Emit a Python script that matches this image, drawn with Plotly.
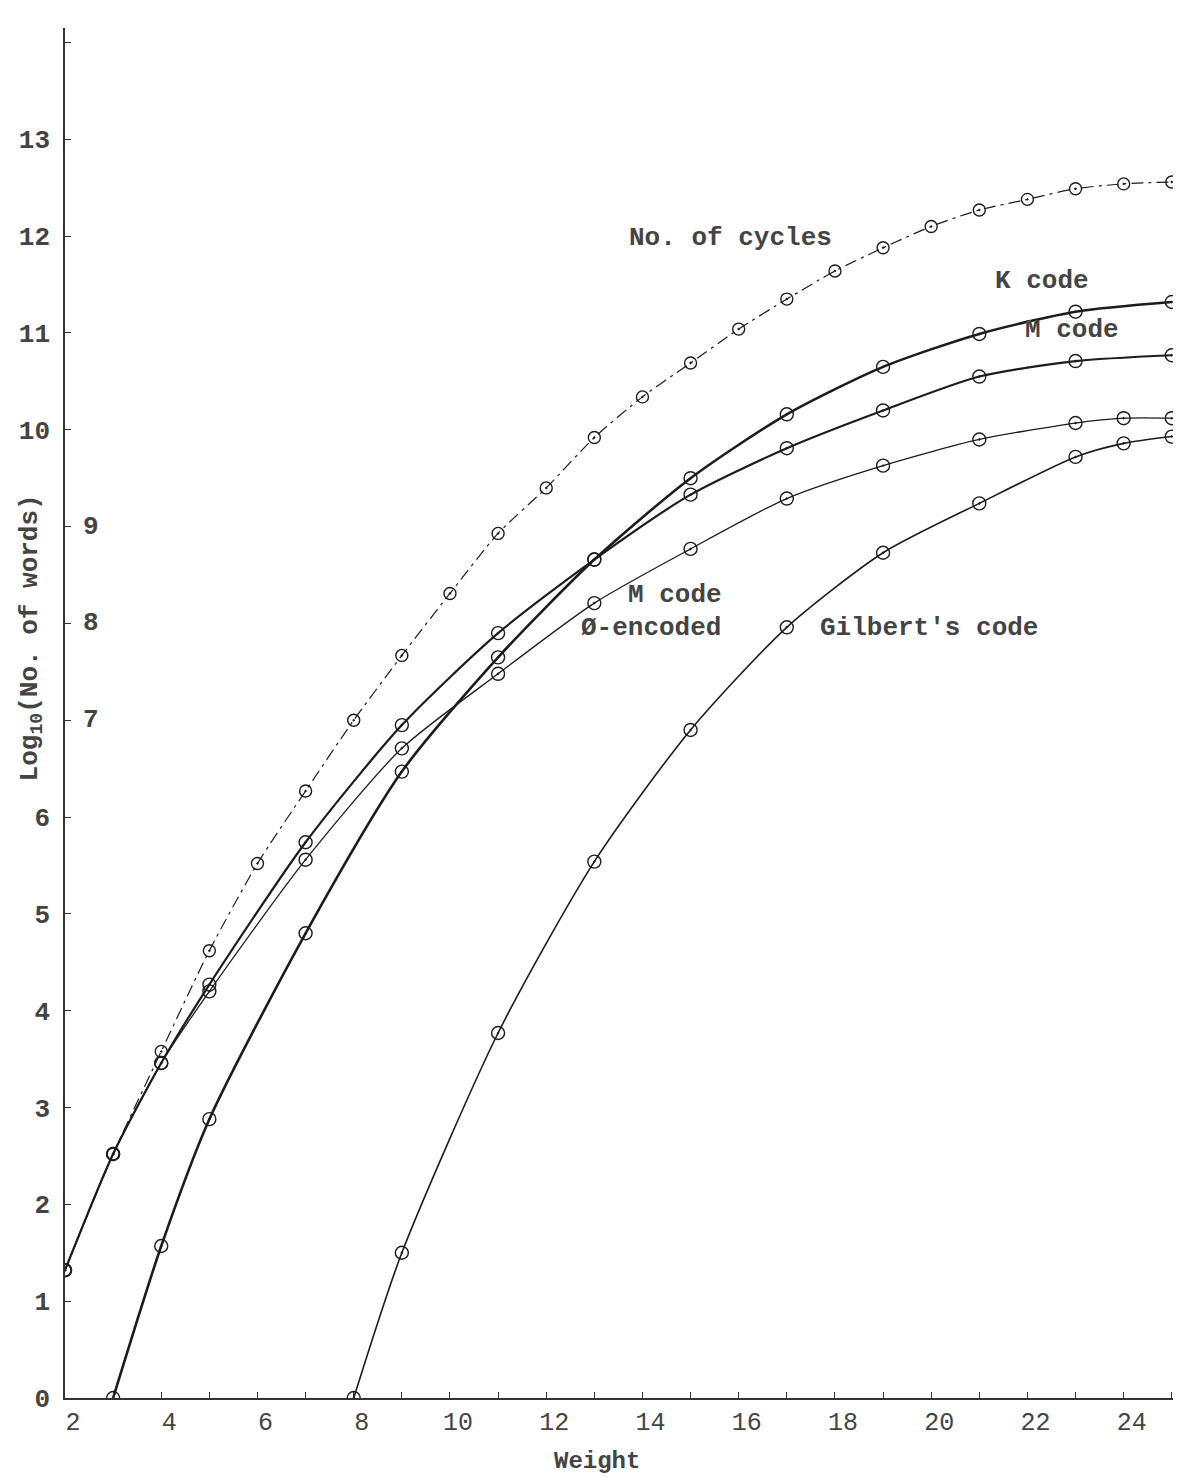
import plotly.graph_objects as go

# ---------------- data ----------------
w_cycles = list(range(2, 26))
cycles = [1.32, 2.52, 3.58, 4.62, 5.52, 6.27, 7.0, 7.67, 8.31, 8.93, 9.4, 9.92,
          10.34, 10.69, 11.04, 11.35, 11.64, 11.88, 12.1, 12.27, 12.38, 12.49, 12.54, 12.56]

w_k = [3, 4, 5, 7, 9, 11, 13, 15, 17, 19, 21, 23, 25]
k_code = [0.0, 1.57, 2.88, 4.8, 6.47, 7.65, 8.66, 9.5, 10.16, 10.65, 10.99, 11.22, 11.32]

w_m = [2, 3, 4, 5, 7, 9, 11, 13, 15, 17, 19, 21, 23, 25]
m_code = [1.32, 2.52, 3.46, 4.27, 5.74, 6.95, 7.9, 8.66, 9.33, 9.81, 10.2, 10.55, 10.71, 10.77]

w_phi = [2, 3, 4, 5, 7, 9, 11, 13, 15, 17, 19, 21, 23, 24, 25]
m_phi = [1.32, 2.52, 3.46, 4.2, 5.56, 6.71, 7.48, 8.21, 8.77, 9.29, 9.63, 9.9, 10.07, 10.12, 10.12]

w_gil = [8, 9, 11, 13, 15, 17, 19, 21, 23, 24, 25]
gilbert = [0.0, 1.5, 3.77, 5.54, 6.9, 7.96, 8.73, 9.24, 9.72, 9.86, 9.93]

x_ticks = list(range(2, 25, 2))
y_inside = [7, 8, 9]          # labels drawn to the right of the axis
y_ticks = [v for v in range(0, 14) if v not in y_inside]

labels = [
    ("No. of cycles", 15.82, 11.98),
    ("K code", 22.3, 11.54),
    ("M code", 22.93, 11.03),
    ("M code", 14.68, 8.29),
    ("Ø-encoded", 14.18, 7.95),
    ("Gilbert's code", 19.96, 7.95),
]

# ---------------- figure ----------------
FONT = "Liberation Mono"
INK = "#1c1c1c"
TXT = "#444444"

fig = go.Figure()

def add(xs, ys, width, dash="solid", msize=13):
    fig.add_trace(go.Scatter(
        x=xs, y=ys, mode="lines+markers",
        line=dict(color=INK, width=width, dash=dash, shape="spline", smoothing=0.7),
        marker=dict(symbol="circle-open-dot", size=msize, color=INK, line=dict(width=1.4)),
        showlegend=False, hoverinfo="x+y"))

add(w_cycles, cycles, 1.2, dash="12px,5px,3px,5px", msize=12)
add(w_phi, m_phi, 1.3)
add(w_gil, gilbert, 1.6)
add(w_m, m_code, 2.2)
add(w_k, k_code, 2.6)

annotations = []
for txt, x, y in labels:
    annotations.append(dict(x=x, y=y, xref="x", yref="y", text=txt, showarrow=False,
                            xanchor="center", yanchor="middle",
                            font=dict(family=FONT, size=26, color=TXT, weight="bold")))
for v in y_inside:
    annotations.append(dict(x=0, y=v, xref="paper", yref="y", text=str(v), showarrow=False,
                            xshift=26, xanchor="center", yanchor="middle",
                            font=dict(family=FONT, size=26, color=TXT, weight="bold")))
annotations.append(dict(x=-0.031, y=7.85, xref="paper", yref="y",
                        text="Log<sub>10</sub>(No. of words)", textangle=-90, showarrow=False,
                        xanchor="center", yanchor="middle",
                        font=dict(family=FONT, size=26, color=TXT, weight="bold")))
annotations.append(dict(x=13.05, y=-0.046, xref="x", yref="paper", text="Weight",
                        showarrow=False, xanchor="center", yanchor="middle",
                        font=dict(family=FONT, size=24, color=TXT, weight="bold")))

# page body has an 8px margin, so the figure is shrunk by 8px on each side
fig.update_layout(
    width=1173, height=1469,
    margin=dict(l=57, r=2, t=20, b=79),
    paper_bgcolor="white", plot_bgcolor="white",
    annotations=annotations,
    xaxis=dict(range=[2, 25.15], tickvals=x_ticks,
               ticks="inside", ticklen=6, tickcolor="#333", showgrid=False, zeroline=False,
               showline=True, linecolor="#333", linewidth=1.6, ticklabelshift=8,
               minor=dict(dtick=1, tick0=2, ticks="inside", ticklen=6, tickcolor="#333", showgrid=False),
               tickfont=dict(family=FONT, size=25, color=TXT)),
    yaxis=dict(range=[0, 14.15], tickvals=y_ticks,
               ticks="inside", ticklen=6, tickcolor="#333", showgrid=False, zeroline=False,
               showline=True, linecolor="#333", linewidth=1.6, ticklabelstandoff=8,
               minor=dict(dtick=1, tick0=0, ticks="inside", ticklen=6, tickcolor="#333", showgrid=False),
               tickfont=dict(family=FONT, size=26, color=TXT, weight="bold")),
)

fig.write_html("out.html")
